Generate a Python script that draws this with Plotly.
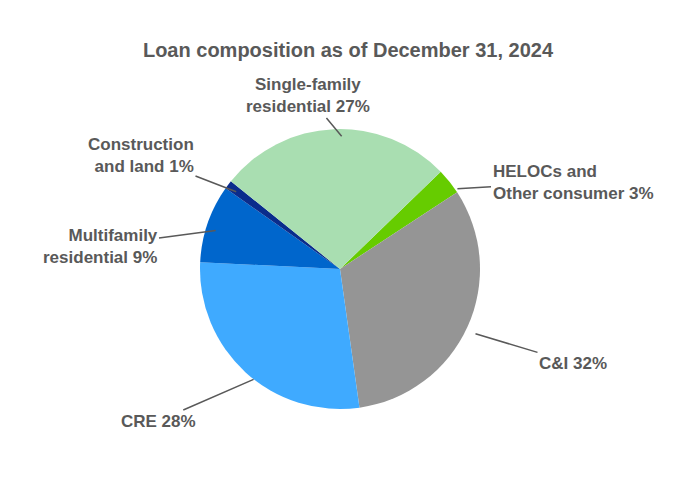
import math
import plotly.graph_objects as go

labels = ["HELOCs and<br>Other consumer", "C&I", "CRE", "Multifamily<br>residential",
          "Construction<br>and land", "Single-family<br>residential"]
values = [3, 32, 28, 9, 1, 27]
colors = ["#66CC00", "#959595", "#3FAAFF", "#0066CC", "#0A2C8C", "#A9DEB1"]
# where each label text sits (pixel centre) and its alignment
text_pos = [(565, 174, "left"), (565, 355, "left"), (150, 413, "right"),
            (92, 238, "right"), (133, 147, "right"), (300, 88, "center")]

W, H = 680, 480
cx, cy, r = 340, 268, 140
rotation = 46
# plotly places the pie a little off the requested domain; compensate
dx, dy = -8, 7

fig = go.Figure(go.Pie(
    labels=labels, values=values, sort=False, direction="clockwise",
    rotation=rotation, marker=dict(colors=colors, line=dict(color="white", width=0)),
    textinfo="none", hoverinfo="label+percent", showlegend=False,
    domain=dict(x=[(cx - r + dx) / W, (cx + r + dx) / W],
                y=[(H - cy - r + dy) / H, (H - cy + r + dy) / H]),
))

total = sum(values)
start = rotation
annotations = []
for lab, v, (tx, ty, al) in zip(labels, values, text_pos):
    mid = start + v / total * 360 / 2
    start += v / total * 360
    a = math.radians(mid)
    ex, ey = cx + r * math.sin(a), cy - r * math.cos(a)
    annotations.append(dict(
        x=ex / W, y=(H - ey) / H, xref="paper", yref="paper",
        text=f"<b>{lab} {v}%</b>", showarrow=True, arrowhead=0, arrowwidth=1.5,
        arrowcolor="#595959", ax=tx - ex, ay=ty - ey, align=al,
        font=dict(family="Liberation Sans, Arial", size=17, color="#595959"),
    ))

fig.update_layout(
    width=W, height=H, margin=dict(l=0, r=0, t=0, b=0),
    paper_bgcolor="white", plot_bgcolor="white",
    title=dict(text="<b>Loan composition as of December 31, 2024</b>", x=0.5, y=0.912,
               xanchor="center", yanchor="middle",
               font=dict(family="Liberation Sans, Arial", size=20, color="#595959")),
    annotations=annotations,
)
fig.write_html("out.html")
